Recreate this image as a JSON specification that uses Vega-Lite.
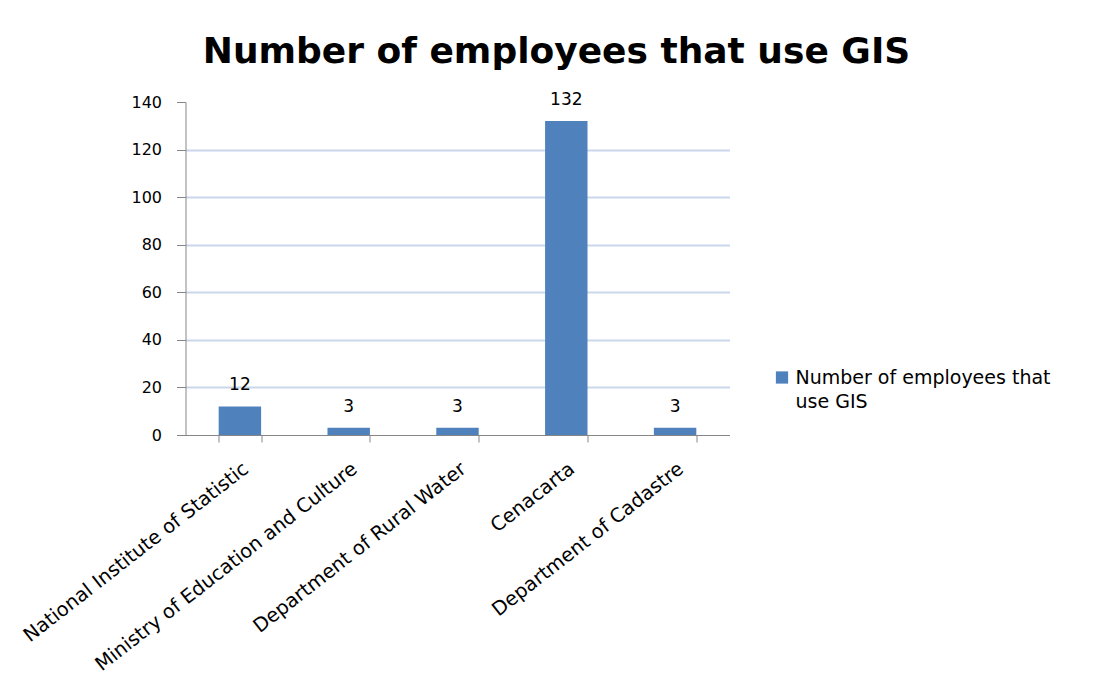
{
  "$schema": "https://vega.github.io/schema/vega-lite/v6.json",
  "width": 544,
  "height": 333,
  "autosize": "none",
  "padding": {"left": 185.5, "top": 102, "right": 365.5, "bottom": 255},
  "background": "white",
  "title": {
    "text": "Number of employees that use GIS",
    "font": "DejaVu Sans",
    "fontSize": 36,
    "fontWeight": "bold",
    "color": "#000000",
    "anchor": "middle",
    "dx": 99,
    "offset": 20
  },
  "config": {"view": {"stroke": null}},
  "data": {
    "values": [
      {"org": "National Institute of Statistic", "employees": 12},
      {"org": "Ministry of Education and Culture", "employees": 3},
      {"org": "Department of Rural Water", "employees": 3},
      {"org": "Cenacarta", "employees": 132},
      {"org": "Department of Cadastre", "employees": 3}
    ]
  },
  "encoding": {
    "x": {
      "field": "org",
      "type": "nominal",
      "sort": null,
      "scale": {"paddingInner": 0.61, "paddingOuter": 0.305},
      "axis": {
        "title": null,
        "labelAngle": -38,
        "labelFont": "DejaVu Sans",
        "labelFontSize": 19.5,
        "labelColor": "#000000",
        "labelLimit": 400,
        "labelPadding": 17,
        "tickBand": "extent",
        "tickSize": 7,
        "tickColor": "#868686",
        "domainColor": "#868686",
        "grid": false
      }
    },
    "y": {
      "field": "employees",
      "type": "quantitative",
      "scale": {"domain": [0, 140]},
      "axis": {
        "title": null,
        "values": [0, 20, 40, 60, 80, 100, 120, 140],
        "tickSize": 9,
        "labelPadding": 15,
        "labelFont": "DejaVu Sans",
        "labelFontSize": 16,
        "labelColor": "#000000",
        "tickColor": "#868686",
        "domainColor": "#868686",
        "gridColor": "#c9d7ec",
        "gridWidth": 2,
        "gridOpacity": {"condition": {"test": "datum.value == 0 || datum.value == 140", "value": 0}, "value": 1}
      }
    }
  },
  "layer": [
    {
      "mark": {"type": "bar"},
      "encoding": {
        "color": {
          "datum": "Number of employees that use GIS",
          "scale": {"range": ["#4f81bd"]},
          "legend": {
            "title": null,
            "orient": "none",
            "legendX": 587,
            "legendY": 266,
            "symbolType": "square",
            "symbolSize": 150,
            "symbolStrokeWidth": 0,
            "labelFont": "DejaVu Sans",
            "labelFontSize": 19,
            "labelColor": "#000000",
            "labelLimit": 400,
            "labelExpr": "['Number of employees that', 'use GIS']",
            "encode": {"labels": {"update": {"lineHeight": {"value": 24}}}}
          }
        }
      }
    },
    {
      "mark": {"type": "text", "dy": -16, "baseline": "alphabetic", "font": "DejaVu Sans", "fontSize": 17, "color": "#000000"},
      "encoding": {"text": {"field": "employees", "type": "quantitative"}}
    }
  ]
}
